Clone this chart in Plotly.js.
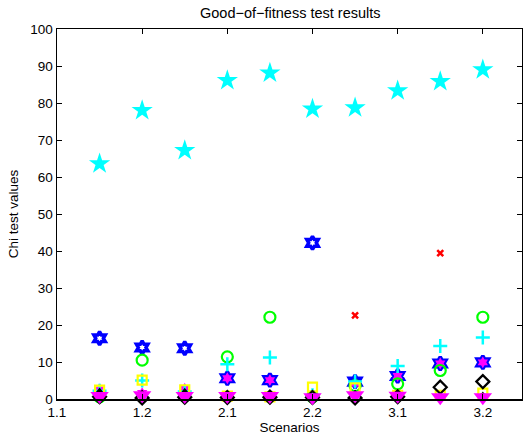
<!DOCTYPE html>
<html>
<head>
<meta charset="utf-8">
<script src="https://cdn.plot.ly/plotly-3.0.1.min.js"></script>
<style>html,body{margin:0;padding:0;background:#fff;}#chart{width:523px;height:438px;}</style>
</head>
<body>
<div id="chart"></div>
<script>
const xPos = [1, 2, 3, 4, 5, 6, 7, 8, 9, 10];
const tickPos = [0, 2, 4, 6, 8, 10];
const tickLabels = ["1.1", "1.2", "2.1", "2.2", "3.1", "3.2"];

const cyanStar     = [63.6, 78.0, 67.2, 86.1, 88.1, 78.4, 78.7, 83.3, 85.8, 89.0];
const blueHexagram = [16.4, 13.9, 13.7, 5.6, 5.1, 42.2, 4.7, 6.2, 9.6, 9.9];
const magentaHex   = [2.6, 1.6, 2.8, 5.6, 5.1, 0.8, 4.2, 6.2, 9.6, 9.9];
const greenCircle  = [0.6, 10.5, 0.8, 11.4, 22.1, 0.6, 3.6, 4.1, 7.7, 22.1];
const redX         = [0.5, 0.5, 0.5, 0.5, 0.4, 0.5, 22.6, 0.5, 39.4, 0.5];
const cyanPlus     = [2.2, 5.0, 2.0, 9.4, 11.2, 1.0, 4.7, 8.9, 14.3, 16.6];
const yellowSquare = [2.4, 5.1, 2.5, 0.8, 0.6, 3.2, 3.0, 1.0, 1.0, 1.6];
const blackDiamond = [0.6, 0.3, 0.5, 0.4, 0.5, 0.4, 0.3, 0.6, 3.2, 4.7];
const blackTriUp   = [2.3, 1.2, 2.2, 0.6, 0.6, 0.5, 1.4, 1.0, 0.8, 1.2];
const magentaTri   = [0.8, 1.0, 0.8, 0.8, 0.8, 0.5, 1.0, 0.9, 0.5, 0.5];

function series(y, symbol, color, size, lw, fill) {
  return {
    x: xPos, y: y, type: 'scatter', mode: 'markers', showlegend: false,
    marker: {symbol: symbol, size: size, color: fill || color,
             line: {color: color, width: lw}},
    cliponaxis: false
  };
}

const data = [
  series(cyanStar, 'star', '#00ffff', 16, 0),
  series(blueHexagram, 'hexagram-open', '#0000ff', 10, 3.5),
  series(magentaHex, 'hexagram', '#ff00ff', 9, 0),
  series(greenCircle, 'circle-open', '#00ff00', 11, 2.2),
  series(redX, 'x-thin-open', '#ff0000', 6, 2.5),
  series(cyanPlus, 'cross-thin-open', '#00ffff', 10, 2.5),
  series(yellowSquare, 'square-open', '#ffff00', 9, 2.2),
  series(blackDiamond, 'diamond-open', '#000000', 10, 2.2),
  series(blackTriUp, 'triangle-up', '#000000', 6, 0),
  series(magentaTri, 'triangle-down', '#ff00ff', 16, 0)
];

const font = {family: 'Liberation Sans, Arial, sans-serif', size: 13.5, color: '#000'};

const layout = {
  width: 523, height: 438,
  margin: {l: 57, r: 1, t: 29, b: 39},
  paper_bgcolor: '#fff', plot_bgcolor: '#fff',
  font: font,
  title: {text: 'Good\u2212of\u2212fitness test results', font: {family: font.family, size: 14.5, color: '#000'},
          x: 0.555, xanchor: 'center', y: 0.97, yanchor: 'middle'},
  xaxis: {
    range: [0, 10.92], tickmode: 'array', tickvals: tickPos, ticktext: tickLabels,
    ticks: 'inside', ticklen: 5, tickcolor: '#000', tickwidth: 1,
    showline: true, linecolor: '#000', linewidth: 1.5, mirror: 'ticks',
    showgrid: false, zeroline: false,
    title: {text: 'Scenarios', font: font, standoff: 4},
    tickfont: font
  },
  yaxis: {
    range: [0, 100], tickmode: 'array', tickvals: [0,10,20,30,40,50,60,70,80,90,100],
    ticks: 'inside', ticklen: 5, tickcolor: '#000', tickwidth: 1,
    showline: true, linecolor: '#000', linewidth: 1.5, mirror: 'ticks',
    showgrid: false, zeroline: false,
    title: {text: 'Chi test values', font: font, standoff: 8},
    tickfont: font
  }
};

Plotly.newPlot('chart', data, layout, {displayModeBar: false, staticPlot: true});
</script>
</body>
</html>
